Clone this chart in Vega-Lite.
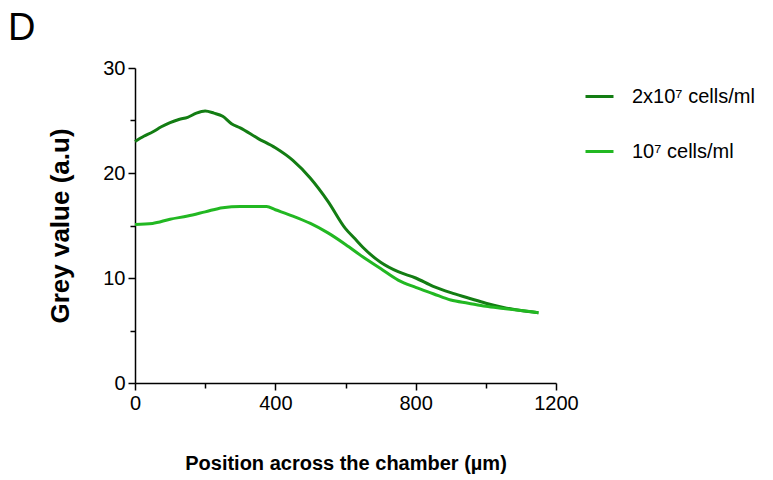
{
  "$schema": "https://vega.github.io/schema/vega-lite/v6.json",
  "autosize": "none",
  "width": 421,
  "height": 315,
  "padding": {"left": 135, "top": 68, "right": 217, "bottom": 97},
  "background": "white",
  "title": {"text": "D", "anchor": "start", "frame": "group", "dx": -127, "offset": 10, "fontSize": 38, "fontWeight": "normal", "font": "Liberation Sans", "color": "black"},
  "config": {"view": {"stroke": null}, "font": "Liberation Sans"},
  "data": {"values": [
    {"series": "2x10⁷ cells/ml", "pos": 0, "grey": 23.0},
    {"series": "2x10⁷ cells/ml", "pos": 25, "grey": 23.5},
    {"series": "2x10⁷ cells/ml", "pos": 50, "grey": 23.9},
    {"series": "2x10⁷ cells/ml", "pos": 75, "grey": 24.4},
    {"series": "2x10⁷ cells/ml", "pos": 100, "grey": 24.8},
    {"series": "2x10⁷ cells/ml", "pos": 125, "grey": 25.1},
    {"series": "2x10⁷ cells/ml", "pos": 150, "grey": 25.3},
    {"series": "2x10⁷ cells/ml", "pos": 175, "grey": 25.7},
    {"series": "2x10⁷ cells/ml", "pos": 200, "grey": 25.9},
    {"series": "2x10⁷ cells/ml", "pos": 225, "grey": 25.7},
    {"series": "2x10⁷ cells/ml", "pos": 250, "grey": 25.4},
    {"series": "2x10⁷ cells/ml", "pos": 275, "grey": 24.7},
    {"series": "2x10⁷ cells/ml", "pos": 300, "grey": 24.3},
    {"series": "2x10⁷ cells/ml", "pos": 350, "grey": 23.3},
    {"series": "2x10⁷ cells/ml", "pos": 400, "grey": 22.4},
    {"series": "2x10⁷ cells/ml", "pos": 450, "grey": 21.2},
    {"series": "2x10⁷ cells/ml", "pos": 500, "grey": 19.5},
    {"series": "2x10⁷ cells/ml", "pos": 550, "grey": 17.3},
    {"series": "2x10⁷ cells/ml", "pos": 600, "grey": 14.7},
    {"series": "2x10⁷ cells/ml", "pos": 625, "grey": 13.8},
    {"series": "2x10⁷ cells/ml", "pos": 650, "grey": 12.9},
    {"series": "2x10⁷ cells/ml", "pos": 700, "grey": 11.5},
    {"series": "2x10⁷ cells/ml", "pos": 750, "grey": 10.6},
    {"series": "2x10⁷ cells/ml", "pos": 800, "grey": 10.0},
    {"series": "2x10⁷ cells/ml", "pos": 850, "grey": 9.2},
    {"series": "2x10⁷ cells/ml", "pos": 900, "grey": 8.6},
    {"series": "2x10⁷ cells/ml", "pos": 950, "grey": 8.1},
    {"series": "2x10⁷ cells/ml", "pos": 1000, "grey": 7.6},
    {"series": "2x10⁷ cells/ml", "pos": 1050, "grey": 7.2},
    {"series": "2x10⁷ cells/ml", "pos": 1100, "grey": 6.9},
    {"series": "2x10⁷ cells/ml", "pos": 1150, "grey": 6.7},
    {"series": "10⁷ cells/ml", "pos": 0, "grey": 15.1},
    {"series": "10⁷ cells/ml", "pos": 50, "grey": 15.2},
    {"series": "10⁷ cells/ml", "pos": 100, "grey": 15.6},
    {"series": "10⁷ cells/ml", "pos": 150, "grey": 15.9},
    {"series": "10⁷ cells/ml", "pos": 200, "grey": 16.3},
    {"series": "10⁷ cells/ml", "pos": 250, "grey": 16.7},
    {"series": "10⁷ cells/ml", "pos": 300, "grey": 16.8},
    {"series": "10⁷ cells/ml", "pos": 350, "grey": 16.8},
    {"series": "10⁷ cells/ml", "pos": 375, "grey": 16.8},
    {"series": "10⁷ cells/ml", "pos": 400, "grey": 16.5},
    {"series": "10⁷ cells/ml", "pos": 450, "grey": 15.9},
    {"series": "10⁷ cells/ml", "pos": 500, "grey": 15.2},
    {"series": "10⁷ cells/ml", "pos": 550, "grey": 14.3},
    {"series": "10⁷ cells/ml", "pos": 600, "grey": 13.2},
    {"series": "10⁷ cells/ml", "pos": 650, "grey": 12.0},
    {"series": "10⁷ cells/ml", "pos": 700, "grey": 10.9},
    {"series": "10⁷ cells/ml", "pos": 750, "grey": 9.8},
    {"series": "10⁷ cells/ml", "pos": 800, "grey": 9.1},
    {"series": "10⁷ cells/ml", "pos": 850, "grey": 8.5},
    {"series": "10⁷ cells/ml", "pos": 900, "grey": 7.9},
    {"series": "10⁷ cells/ml", "pos": 950, "grey": 7.6},
    {"series": "10⁷ cells/ml", "pos": 1000, "grey": 7.3},
    {"series": "10⁷ cells/ml", "pos": 1050, "grey": 7.1},
    {"series": "10⁷ cells/ml", "pos": 1100, "grey": 6.9},
    {"series": "10⁷ cells/ml", "pos": 1150, "grey": 6.7}
  ]},
  "layer": [
    {
      "mark": {"type": "line", "strokeWidth": 3, "interpolate": "monotone"},
      "encoding": {
        "x": {"field": "pos", "type": "quantitative", "scale": {"domain": [0, 1200], "nice": false},
          "axis": {"orient": "bottom", "values": [0, 400, 800, 1200], "format": "d", "labelFlush": false, "title": "Position across the chamber (µm)", "grid": false,
            "domainColor": "black", "domainWidth": 1.5, "tickColor": "black", "tickWidth": 1.5, "tickSize": 7,
            "labelFontSize": 20, "labelColor": "black", "labelPadding": 3, "labelFont": "Liberation Sans",
            "titleFontSize": 20, "titleFont": "Liberation Sans", "titleFontWeight": "bold", "titleColor": "black", "titlePadding": 40}},
        "y": {"field": "grey", "type": "quantitative", "scale": {"domain": [0, 30], "nice": false},
          "axis": {"orient": "left", "values": [0, 10, 20, 30], "labelFlush": false, "title": "Grey value (a.u)", "grid": false,
            "domainColor": "black", "domainWidth": 1.5, "tickColor": "black", "tickWidth": 1.5, "tickSize": 7,
            "labelFontSize": 20, "labelColor": "black", "labelPadding": 3, "labelFont": "Liberation Sans",
            "titleFontSize": 26, "titleFont": "Liberation Sans", "titleFontWeight": "bold", "titleColor": "black", "titlePadding": 29}},
        "color": {"field": "series", "type": "nominal",
          "scale": {"domain": ["2x10⁷ cells/ml", "10⁷ cells/ml"], "range": ["#137d13", "#22b822"]},
          "legend": {"title": null, "orient": "none", "legendX": 449, "legendY": 13, "symbolType": "stroke", "symbolStrokeWidth": 3,
            "symbolSize": 784, "labelFontSize": 20, "labelFont": "Liberation Sans", "labelColor": "black", "labelOffset": 17, "rowPadding": 29}}
      }
    },
    {
      "mark": {"type": "line", "opacity": 0},
      "encoding": {
        "x": {"field": "pos", "type": "quantitative",
          "axis": {"orient": "bottom", "values": [200, 600, 1000], "title": null, "labels": false, "domain": false, "grid": false,
            "tickColor": "black", "tickWidth": 1.5, "tickSize": 5}},
        "y": {"field": "grey", "type": "quantitative",
          "axis": {"orient": "left", "values": [5, 15, 25], "title": null, "labels": false, "domain": false, "grid": false,
            "tickColor": "black", "tickWidth": 1.5, "tickSize": 5}},
        "detail": {"field": "series", "type": "nominal"}
      }
    }
  ],
  "resolve": {"axis": {"x": "independent", "y": "independent"}}
}
